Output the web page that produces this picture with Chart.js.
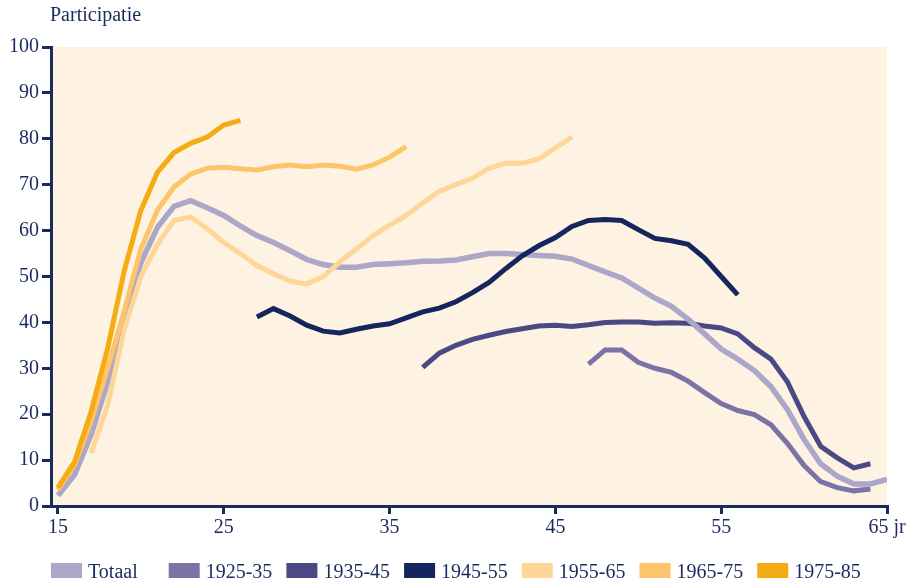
<!DOCTYPE html>
<html>
<head>
<meta charset="utf-8">
<script src="https://cdn.jsdelivr.net/npm/chart.js@4.4.1/dist/chart.umd.min.js"></script>
<style>
  html, body { margin: 0; padding: 0; background: #ffffff; }
  #wrap { width: 918px; height: 582px; position: relative; }
</style>
</head>
<body>
<div id="wrap"><canvas id="partChart" width="918" height="582"></canvas></div>
<script>
// Participatie per leeftijd (jr), per geboortecohort
const seriesNames = ["Totaal", "1925-35", "1935-45", "1945-55", "1955-65", "1965-75", "1975-85"];
const seriesColors = ["#aaa7c9", "#7a74a6", "#4b4984", "#15265f", "#fdd698", "#fcc56a", "#f5ab13"];
const startAges = [15, 47, 37, 27, 17, 15, 15];

const totaal = [2.3, 6.8, 15.5, 27, 39.6, 53, 60.7, 65.3, 66.5, 65,
    63.3, 61, 58.9, 57.4, 55.6, 53.7, 52.6, 52, 52, 52.6,
    52.8, 53, 53.3, 53.4, 53.6, 54.3, 55, 55, 54.8, 54.6,
    54.4, 53.8, 52.4, 51, 49.7, 47.5, 45.3, 43.5, 40.7, 37.5,
    34.2, 32, 29.5, 26, 21, 14.5, 9.2, 6.5, 4.8, 4.8, 5.8];
const c1925 = [30.9, 34, 34, 31.3, 30, 29.1, 27.2, 24.7, 22.3, 20.8,
    19.9, 17.7, 13.6, 8.8, 5.3, 4, 3.3, 3.7];
const c1935 = [30.2, 33.3, 35, 36.3, 37.2, 38, 38.6, 39.2, 39.4, 39.1,
    39.5, 40, 40.1, 40.1, 39.8, 39.9, 39.8, 39.2, 38.8, 37.5,
    34.5, 32, 27, 19.5, 13, 10.5, 8.3, 9.2];
const c1945 = [41.2, 43, 41.4, 39.4, 38.1, 37.7, 38.5, 39.2, 39.7, 41,
    42.3, 43.1, 44.5, 46.5, 48.7, 51.7, 54.5, 56.7, 58.5, 60.9,
    62.2, 62.4, 62.2, 60.2, 58.3, 57.8, 57, 54, 50, 46];
const c1955 = [11.5, 22, 38.5, 50, 57, 62.2, 63, 60.4, 57.4, 55,
    52.4, 50.6, 49, 48.4, 50, 53.2, 56, 58.9, 61.2, 63.3,
    66, 68.6, 70, 71.4, 73.6, 74.7, 74.7, 75.6, 78, 80.4];
const c1965 = [3.5, 9, 18.4, 30, 42.5, 56, 64.5, 69.5, 72.3, 73.6,
    73.8, 73.5, 73.2, 73.9, 74.3, 73.9, 74.3, 74, 73.4, 74.3, 76, 78.3];
const c1975 = [4, 9.6, 20.6, 34.4, 51.3, 64.4, 72.7, 77, 79, 80.4, 83, 84];

const allSeries = [totaal, c1925, c1935, c1945, c1955, c1965, c1975];
const drawOrder = [4, 6, 5, 3, 2, 1, 0]; // lower = on top

const xTicks = [15, 25, 35, 45, 55, 65];
const yTicks = [0, 10, 20, 30, 40, 50, 60, 70, 80, 90, 100];

const navy = "#1b2a5e";
const serif = "'Liberation Serif', 'DejaVu Serif', serif";

const datasets = allSeries.map(function (vals, i) {
    return {
        label: seriesNames[i],
        data: vals.map(function (v, k) { return { x: startAges[i] + k, y: v }; }),
        borderColor: seriesColors[i],
        backgroundColor: seriesColors[i],
        borderWidth: i === 0 ? 5.5 : 5,
        pointRadius: 0,
        tension: 0,
        order: drawOrder[i]
    };
});

// plot background
const plotBg = {
    id: "plotBg",
    beforeDraw: function (chart) {
        const a = chart.chartArea;
        const ctx = chart.ctx;
        ctx.save();
        ctx.fillStyle = "#fef3e2";
        ctx.fillRect(a.left, a.top, a.right - a.left, a.bottom - a.top);
        ctx.restore();
    }
};

// title and legend in fixed columns
const extras = {
    id: "extras",
    afterDraw: function (chart) {
        const ctx = chart.ctx;
        ctx.save();
        ctx.fillStyle = navy;
        ctx.font = "20px " + serif;
        ctx.textBaseline = "alphabetic";
        ctx.textAlign = "left";
        ctx.fillText("Participatie", 50, 21);

        chart.data.datasets.forEach(function (ds, i) {
            const x = 51 + i * 117.7;
            ctx.fillStyle = ds.borderColor;
            ctx.fillRect(x, 563, 31, 15);
            ctx.fillStyle = navy;
            ctx.fillText(ds.label, x + 37, 578);
        });
        ctx.restore();
    }
};

new Chart(document.getElementById("partChart").getContext("2d"), {
    type: "line",
    data: { datasets: datasets },
    options: {
        responsive: false,
        animation: false,
        layout: {
            padding: { top: 47, right: 31, bottom: 40, left: 6 }
        },
        plugins: {
            legend: { display: false },
            tooltip: { enabled: false }
        },
        scales: {
            x: {
                type: "linear",
                min: 14.58,
                max: 65,
                afterBuildTicks: function (axis) {
                    axis.ticks = xTicks.map(function (v) { return { value: v }; });
                },
                border: { color: navy, width: 3 },
                grid: { drawOnChartArea: false, drawTicks: true, tickLength: 8, color: navy, lineWidth: 3 },
                ticks: {
                    color: navy,
                    font: { family: serif, size: 20 },
                    padding: 2,
                    maxRotation: 0,
                    callback: function (v) { return v === 65 ? "65 jr" : String(v); }
                }
            },
            y: {
                min: 0,
                max: 100,
                afterBuildTicks: function (axis) {
                    axis.ticks = yTicks.map(function (v) { return { value: v }; });
                },
                border: { color: navy, width: 3 },
                grid: { drawOnChartArea: false, drawTicks: true, tickLength: 9, color: navy, lineWidth: 3 },
                ticks: {
                    color: navy,
                    font: { family: serif, size: 20 },
                    padding: 3
                }
            }
        }
    },
    plugins: [plotBg, extras]
});
</script>
</body>
</html>
